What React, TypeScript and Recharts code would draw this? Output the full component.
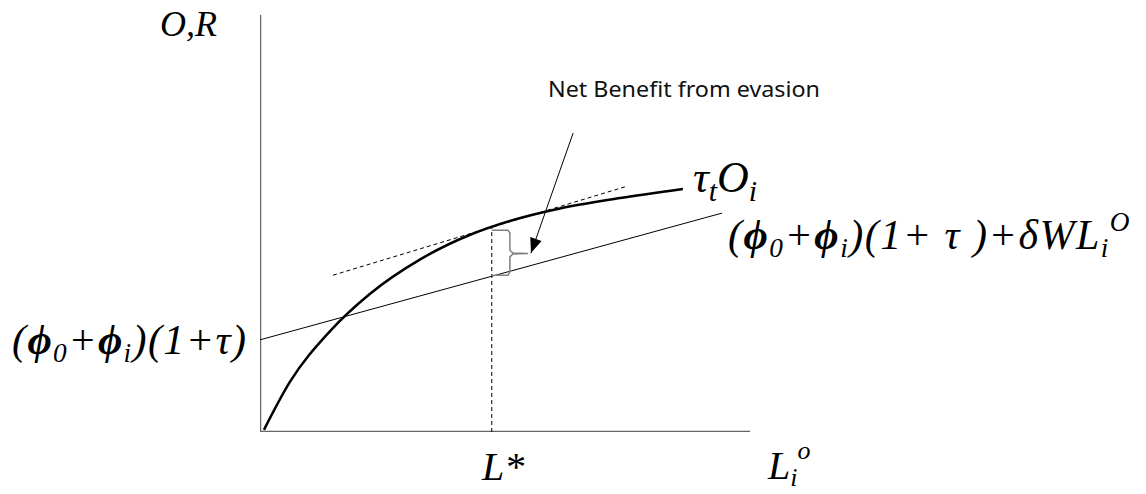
import React from "react";
import { ComposedChart, Line, XAxis, YAxis, Scatter } from "recharts";

// chart frame in pixels, plot area = the two drawn axes
const W = 1146;
const H = 494;
const margin = { top: 15, right: 396, bottom: 62, left: 260 };

type Pt = { x: number; y: number };

// axes (drawn as one L-shaped polyline)
const axisPts: Pt[] = [
  { x: 0, y: 100 },
  { x: 0, y: 0 },
  { x: 100, y: 0 },
];

// tau_t O_i curve
const outputCurve: Pt[] = [
  { x: 0.8, y: 0.5 },
  { x: 6.1, y: 12.0 },
  { x: 14.3, y: 24.2 },
  { x: 22.4, y: 33.1 },
  { x: 32.7, y: 41.4 },
  { x: 42.9, y: 47.3 },
  { x: 51.0, y: 50.6 },
  { x: 61.2, y: 53.6 },
  { x: 73.5, y: 56.1 },
  { x: 86.3, y: 58.3 },
];

// (phi0+phii)(1+tau) + delta W L line
const costLine: Pt[] = [
  { x: 0, y: 22.1 },
  { x: 94.3, y: 52.5 },
];

// tangent at L*
const tangentLine: Pt[] = [
  { x: 14.9, y: 37.6 },
  { x: 74.5, y: 58.8 },
];

const lStar = 47.3;
const lStarLine: Pt[] = [
  { x: lStar, y: 0 },
  { x: lStar, y: 49.0 },
];

// curly brace between curve and line at L*
const bracePts: Pt[] = [
  { x: 47.3, y: 48.4 },
  { x: 50.6, y: 48.4 },
  { x: 51.0, y: 47.7 },
  { x: 51.0, y: 43.6 },
  { x: 51.6, y: 42.9 },
  { x: 54.7, y: 42.8 },
  { x: 51.6, y: 42.7 },
  { x: 51.0, y: 42.0 },
  { x: 51.0, y: 38.4 },
  { x: 50.6, y: 37.6 },
  { x: 47.3, y: 37.6 },
];

// annotation arrow
const arrowFrom: Pt = { x: 63.9, y: 71.7 };
const arrowTo: Pt = { x: 55.3, y: 42.9 };
const arrowLine: Pt[] = [arrowFrom, arrowTo];

const plotW = W - margin.left - margin.right;
const plotH = H - margin.top - margin.bottom;
const arrowAngle = Math.atan2(
  -(arrowTo.y - arrowFrom.y) * (plotH / 100),
  (arrowTo.x - arrowFrom.x) * (plotW / 100)
);

function ArrowHead(props: any) {
  const { cx, cy } = props;
  const len = 15;
  const half = 6;
  const ux = Math.cos(arrowAngle);
  const uy = Math.sin(arrowAngle);
  const bx = cx - ux * len;
  const by = cy - uy * len;
  const p = `${cx},${cy} ${bx - uy * half},${by + ux * half} ${bx + uy * half},${by - ux * half}`;
  return <polygon points={p} fill="#000" />;
}

const serif = "'Liberation Serif', 'Times New Roman', serif";

// text segment: s = size scale (1 = base), off = baseline offset in px, b = bold
type Seg = { t: string; s?: number; off?: number; b?: boolean };

function MathText({ x, y, size, segs, spacing = 0 }: { x: number; y: number; size: number; segs: Seg[]; spacing?: number }) {
  let prev = 0;
  return (
    <text x={x} y={y} fontFamily={serif} fontStyle="italic" fontSize={size} letterSpacing={spacing}>
      {segs.map((g, i) => {
        const off = g.off ?? 0;
        const dy = off - prev;
        prev = off;
        return (
          <tspan key={i} dy={dy || undefined} fontSize={size * (g.s ?? 1)} fontWeight={g.b ? "bold" : undefined}>
            {g.t}
          </tspan>
        );
      })}
    </text>
  );
}

const sub = 0.65;

const leftLabel: Seg[] = [
  { t: "(" },
  { t: "ϕ", b: true },
  { t: "0", s: sub, off: 8 },
  { t: "+" },
  { t: "ϕ", b: true },
  { t: "i", s: sub, off: 8 },
  { t: ")(1+τ)" },
];

const rightLabel: Seg[] = [
  { t: "(" },
  { t: "ϕ", b: true },
  { t: "0", s: sub, off: 8 },
  { t: "+" },
  { t: "ϕ", b: true },
  { t: "i", s: sub, off: 8 },
  { t: ")(1+ τ )+δWL" },
  { t: "i", s: sub, off: 8 },
  { t: "O", s: sub, off: -18 },
];

const curveLabel: Seg[] = [
  { t: "τ" },
  { t: "t", s: 0.68, off: 9 },
  { t: "O" },
  { t: "i", s: 0.68, off: 9 },
];

const xLabel: Seg[] = [
  { t: "L" },
  { t: "i", s: sub, off: 7 },
  { t: "o", s: sub, off: -20 },
];

function Labels() {
  return (
    <svg
      width={W}
      height={H}
      style={{ position: "absolute", left: 0, top: 0, pointerEvents: "none" }}
    >
      <MathText x={160} y={36} size={36} segs={[{ t: "O,R" }]} />
      <MathText x={12} y={354} size={42} spacing={1.4} segs={leftLabel} />
      <MathText x={693} y={192} size={44} segs={curveLabel} />
      <MathText x={728} y={249} size={42} spacing={1.5} segs={rightLabel} />
      <MathText x={482} y={480} size={40} segs={[{ t: "L*" }]} />
      <MathText x={768} y={479} size={40} segs={xLabel} />
      <text
        x={548}
        y={97}
        fontFamily="'Noto Sans', sans-serif"
        fontSize={22}
        textLength={272}
        lengthAdjust="spacingAndGlyphs"
        fill="#111"
      >
        Net Benefit from evasion
      </text>
    </svg>
  );
}

export default function App() {
  return (
    <div style={{ position: "absolute", left: 0, top: 0, width: W, height: H, background: "#fff" }}>
      <ComposedChart width={W} height={H} margin={margin}>
        <XAxis type="number" dataKey="x" domain={[0, 100]} hide allowDataOverflow />
        <YAxis type="number" dataKey="y" domain={[0, 100]} hide allowDataOverflow />
        <Line data={axisPts} dataKey="y" type="linear" stroke="#666" strokeWidth={2.5} dot={false} activeDot={false} isAnimationActive={false} />
        <Line data={costLine} dataKey="y" type="linear" stroke="#000" strokeWidth={1} dot={false} activeDot={false} isAnimationActive={false} />
        <Line data={tangentLine} dataKey="y" type="linear" stroke="#000" strokeWidth={1} strokeDasharray="4 3" dot={false} activeDot={false} isAnimationActive={false} />
        <Line data={lStarLine} dataKey="y" type="linear" stroke="#000" strokeWidth={1} strokeDasharray="4 3" dot={false} activeDot={false} isAnimationActive={false} />
        <Line data={outputCurve} dataKey="y" type="monotone" stroke="#000" strokeWidth={2.5} dot={false} activeDot={false} isAnimationActive={false} />
        <Line data={bracePts} dataKey="y" type="linear" stroke="#808080" strokeWidth={1.5} dot={false} activeDot={false} isAnimationActive={false} />
        <Line data={arrowLine} dataKey="y" type="linear" stroke="#000" strokeWidth={1} dot={false} activeDot={false} isAnimationActive={false} />
        <Scatter data={[arrowTo]} dataKey="y" shape={ArrowHead} isAnimationActive={false} />
      </ComposedChart>
      <Labels />
    </div>
  );
}
